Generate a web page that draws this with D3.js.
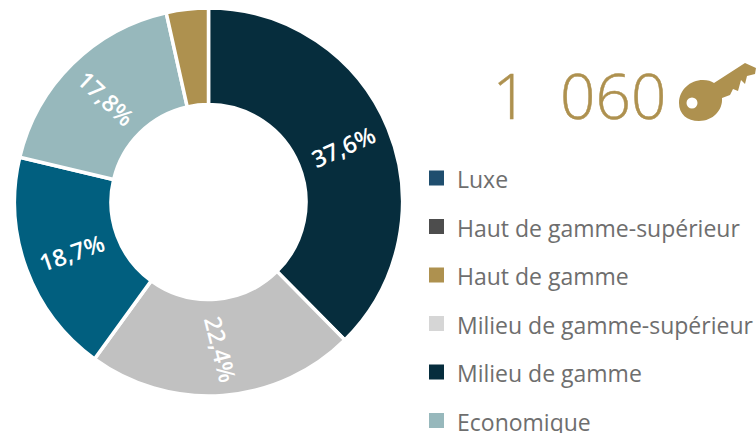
<!DOCTYPE html>
<html><head><meta charset="utf-8">
<script src="https://cdn.jsdelivr.net/npm/d3@7"></script>
<style>html,body{margin:0;padding:0;background:#fff;overflow:hidden}svg{display:block}</style>
</head><body><svg id="c" width="756" height="433"></svg>
<script>
const sliceNames = ["Milieu de gamme","Milieu de gamme-supérieur","Segment bleu","Economique","Haut de gamme"];
const sliceValues = [37.6,22.4,18.7,17.8,3.5];
const sliceLabels = ["37,6%","22,4%","18,7%","17,8%",""];
const sliceColors = ["#062d3d","#c1c1c1","#015f7f","#97b8bc","#ae914f"];
const labelRotations = [-24,76,-19,43,0];
const labelShiftX = [0,1,0,0,0];
const labelShiftY = [0,2,0,0,0];
const legendNames = ["Luxe","Haut de gamme-supérieur","Haut de gamme","Milieu de gamme-supérieur","Milieu de gamme","Economique"];
const legendColors = ["#1f4e6e","#4d4d4d","#ae914f","#d6d6d6","#062d3d","#97b8bc"];
const totalText = "1  060";

const svg = d3.select("#c");
const cx=208.5, cy=202, R=194, r=97.5;
const pie = d3.pie().sort(null).value(d=>d)(sliceValues);
const arc = d3.arc().innerRadius(r).outerRadius(R);
const g = svg.append("g").attr("transform",`translate(${cx},${cy})`);
g.selectAll("path").data(pie).join("path").attr("d",arc)
 .attr("fill",(d,i)=>sliceColors[i]).attr("stroke","#fff").attr("stroke-width",3.5);
g.selectAll("text").data(pie).join("text")
 .attr("transform",(d,i)=>{const c=arc.centroid(d);return `translate(${c[0]+labelShiftX[i]},${c[1]+labelShiftY[i]}) rotate(${labelRotations[i]})`;})
 .attr("text-anchor","middle").attr("dominant-baseline","central")
 .attr("font-family","'Open Sans'").attr("font-weight",600).attr("font-size",23.5).attr("fill","#fff")
 .text((d,i)=>sliceLabels[i]);

svg.append("text").attr("x",492.5).attr("y",119).style("white-space","pre")
 .attr("font-family","'Open Sans'").attr("font-weight",300).attr("font-size",62)
 .attr("fill","#ae914f").attr("stroke","#ae914f").attr("stroke-width",0.5).text(totalText);

// key icon
svg.append("path").attr("fill","#ae914f").attr("fill-rule","evenodd")
 .attr("d","M679 103 C679 90 690 80 703 80 C708 80 711 81 714 83 L745 63 L756 68 L755 74 L747 76 L745 84 L741 80 L738 91 L733 89 L730 95 L722 98 C723 110 713 121 699 121 C687 121 679 114 679 103 Z M686.5 103 a5.5 5.5 0 1 0 11 0 a5.5 5.5 0 1 0 -11 0 Z");

const y = d3.scalePoint().domain(legendNames).range([178.5,421]);
const leg = svg.append("g").selectAll("g").data(legendNames).join("g").attr("transform",d=>`translate(0,${y(d)})`);
leg.append("rect").attr("x",429).attr("y",-8).attr("width",15).attr("height",15).attr("fill",(d,i)=>legendColors[i]);
leg.append("text").attr("x",457).attr("y",0.5).attr("dominant-baseline","central")
 .attr("font-family","'Open Sans'").attr("font-size",23).attr("fill","#6e6e6e").text(d=>d);
</script></body></html>
